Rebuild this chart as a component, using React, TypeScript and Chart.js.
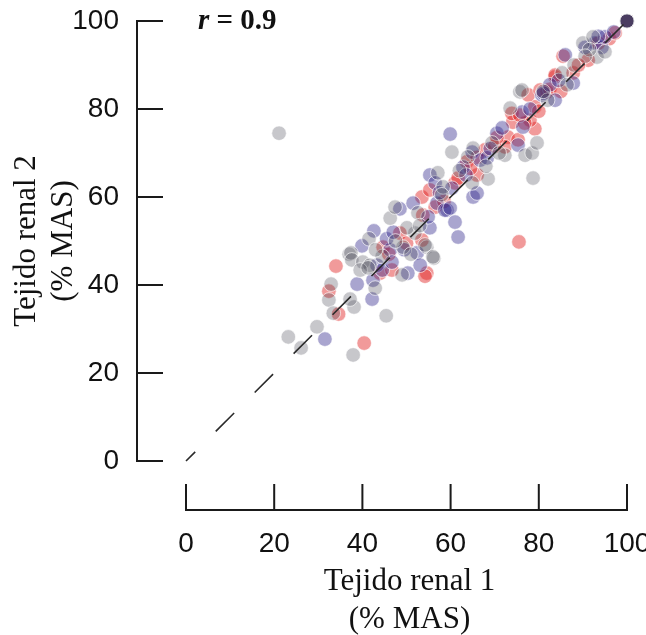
import React, { useEffect, useRef } from "react";
import { Chart, registerables } from "chart.js";

Chart.register(...registerables);

const xTicks = [0, 20, 40, 60, 80, 100];
const yTicks = [0, 20, 40, 60, 80, 100];
const xTitle = ["Tejido renal 1", "(% MAS)"];
const yTitle = ["Tejido renal 2", "(% MAS)"];
const rLabel = "r";
const rValue = " = 0.9";
const identityX = [0, 100];
const identityY = [0, 100];

const redX = [34, 32.4, 34.6, 40.4, 44, 46.7, 44.7, 48.5, 53.7, 53.5, 54.6, 54.2, 53.5, 55.3, 56.5, 61, 66, 61.7, 63.7, 67.8, 73, 72.3, 75.3, 79.1, 78, 74.1, 73.9, 79.1, 81.9, 77.6, 75.5, 80.3, 83.7, 82.5, 87.8, 85.5, 91.2, 96, 97.3, 76.8, 70, 66, 75.7, 83.7, 46, 50, 58.5, 64.5, 70.5, 85, 89, 93.5, 80, 100, 100, 100];
const redY = [44.3, 38.6, 33.4, 26.8, 42.7, 43.4, 48.6, 51.8, 55.9, 50.2, 42.7, 42, 60, 61.6, 57.7, 63.2, 65, 64.3, 68, 70.7, 73.6, 71.4, 73, 75.5, 77.5, 77, 79, 80.5, 83.9, 83.2, 49.8, 84.3, 87.3, 84.5, 88.2, 92, 91.1, 96, 97.3, 76.8, 71.5, 69, 78.6, 87.7, 47, 49.5, 59, 66.5, 73.5, 84, 90, 95, 79.5, 100, 100, 100];

const purpleX = [31.5, 42.2, 38.8, 42.4, 39.9, 42.6, 43.3, 44.5, 46.3, 46.7, 50.3, 52.4, 53.1, 55.3, 48.5, 51.5, 56.9, 59.2, 61, 61.7, 58.7, 59.9, 54.9, 55.3, 56.5, 60.3, 65.1, 66, 62.8, 64.9, 66.7, 68.3, 59.9, 70.5, 71.7, 75.3, 76.4, 76.2, 83.7, 80.7, 81, 82.5, 87.8, 86, 92.7, 94.3, 95, 93.5, 45.5, 47, 49.5, 57.5, 63.5, 69, 78, 84.5, 90.5, 97, 100, 100, 100];
const purpleY = [27.7, 36.8, 40.2, 41.1, 48.9, 52.3, 44.5, 43.4, 48, 45.2, 42.7, 47.3, 44.5, 53, 57.3, 58.6, 58.6, 57, 54.3, 50.9, 57, 57.5, 55.5, 65, 63.2, 62, 60, 60.9, 66.8, 70.2, 68.4, 68.9, 74.3, 74.5, 75.7, 71.8, 75.9, 79.3, 82, 83.2, 83.6, 85.5, 85.9, 92.3, 95, 94, 96.4, 96.5, 50.5, 52, 48, 61, 65, 71, 80, 86.5, 94, 97.5, 100, 100, 100];

const grayX = [21.1, 32.9, 32.4, 33.4, 37, 23.2, 29.7, 26.1, 37.9, 45.4, 38.1, 37.2, 42.9, 37.4, 37.6, 40.1, 41.7, 39.5, 41.5, 41.3, 49.2, 49, 54.6, 56.2, 51.9, 50.1, 46.3, 47.4, 52.6, 56, 54.2, 57.1, 58.3, 64.9, 68.5, 65.1, 63.9, 60.3, 69.4, 72.3, 76.9, 78.5, 79.6, 73.5, 78.7, 75.7, 76.2, 85.3, 86.4, 90, 92.3, 93.2, 91.5, 82, 44.5, 47.5, 51, 43, 58, 62, 71, 88, 90.5, 95, 81, 68, 53, 100, 100, 100];
const grayY = [74.5, 40.2, 36.6, 33.6, 47, 28.2, 30.5, 25.7, 24.1, 33, 35, 36.8, 39.3, 47.3, 45.7, 45.2, 44.5, 43.4, 50.5, 43.9, 48.6, 42.3, 48.6, 46.1, 51.8, 53, 55.2, 57.7, 56.4, 46.4, 49.1, 65.5, 62.3, 63.2, 64.1, 71.1, 69.1, 70.2, 72.3, 69.5, 69.5, 70, 72.3, 80.2, 64.3, 83.9, 84.3, 88.2, 85.5, 95, 96.4, 91.8, 93.5, 82, 46.5, 50, 47, 48, 60.5, 66, 70, 90, 92, 93, 84, 67, 53.5, 100, 100, 100];

const toPoints = (xs: number[], ys: number[]) => xs.map((x, i) => ({ x, y: ys[i] }));

const SANS = "'Liberation Sans', Arial, Helvetica, sans-serif";
const SERIF = "'Liberation Serif', 'Times New Roman', serif";
const AXIS_OFFSET = 49;
const TICK_LEN = 26;

const decorPlugin = {
  id: "decor",
  afterDraw(chart: any) {
    const { ctx } = chart;
    const xs = chart.scales.x;
    const ys = chart.scales.y;
    const x0 = xs.getPixelForValue(xTicks[0]);
    const x1 = xs.getPixelForValue(xTicks[xTicks.length - 1]);
    const y0 = ys.getPixelForValue(yTicks[0]);
    const y1 = ys.getPixelForValue(yTicks[yTicks.length - 1]);
    const axX = x0 - AXIS_OFFSET;
    const axY = y0 + AXIS_OFFSET;
    ctx.save();
    ctx.strokeStyle = "#1a1a1a";
    ctx.lineWidth = 2;
    ctx.lineCap = "butt";
    ctx.beginPath();
    ctx.moveTo(axX, y0 + 1);
    ctx.lineTo(axX, y1 - 1);
    yTicks.forEach((v) => {
      const p = ys.getPixelForValue(v);
      ctx.moveTo(axX - 1, p);
      ctx.lineTo(axX + TICK_LEN, p);
    });
    ctx.moveTo(x0 - 1, axY);
    ctx.lineTo(x1 + 1, axY);
    xTicks.forEach((v) => {
      const p = xs.getPixelForValue(v);
      ctx.moveTo(p, axY + 1);
      ctx.lineTo(p, axY - TICK_LEN);
    });
    ctx.stroke();

    ctx.fillStyle = "#111";
    ctx.font = `31px ${SERIF}`;
    ctx.textAlign = "center";
    ctx.textBaseline = "alphabetic";
    const xc = (x0 + x1) / 2 + 3;
    ctx.fillText(xTitle[0], xc, 590);
    ctx.fillText(xTitle[1], xc, 628);

    const yc = (y0 + y1) / 2;
    ctx.save();
    ctx.translate(35, yc);
    ctx.rotate(-Math.PI / 2);
    ctx.fillText(yTitle[0], 0, 0);
    ctx.fillText(yTitle[1], 0, 37);
    ctx.restore();

    ctx.textAlign = "left";
    ctx.font = `italic bold 29px ${SERIF}`;
    const rx = 198;
    const ry = 29;
    ctx.fillText(rLabel, rx, ry);
    const rw = ctx.measureText(rLabel).width;
    ctx.font = `bold 29px ${SERIF}`;
    ctx.fillText(rValue, rx + rw, ry);
    ctx.restore();
  },
};

export default function App() {
  const ref = useRef<HTMLCanvasElement | null>(null);
  useEffect(() => {
    if (!ref.current) return;
    const pointStyle = {
      pointRadius: 7.3,
      pointBorderWidth: 1,
      pointBorderColor: "rgba(255,255,255,0.65)",
      clip: false as const,
    };
    const chart = new Chart(ref.current, {
      type: "scatter",
      data: {
        datasets: [
          {
            type: "line" as any,
            data: toPoints(identityX, identityY),
            borderColor: "#2a2a2a",
            borderWidth: 1.6,
            borderDash: [26, 29],
            borderDashOffset: 13,
            pointRadius: 0,
            fill: false,
            clip: false,
          } as any,
          {
            data: toPoints(grayX, grayY),
            backgroundColor: "rgba(70,70,82,0.3)",
            ...pointStyle,
          },
          {
            data: toPoints(purpleX, purpleY),
            backgroundColor: "rgba(50,40,140,0.42)",
            ...pointStyle,
          },
          {
            data: toPoints(redX, redY),
            backgroundColor: "rgba(225,30,30,0.45)",
            ...pointStyle,
          },
        ],
      },
      options: {
        responsive: false,
        animation: false,
        devicePixelRatio: 1,
        events: [],
        layout: { padding: { top: 21, right: 19, left: 0, bottom: 0 } },
        plugins: {
          legend: { display: false },
          tooltip: { enabled: false },
        },
        scales: {
          x: {
            type: "linear",
            position: "bottom",
            min: 0,
            max: 100,
            grid: { display: false },
            border: { display: false },
            ticks: {
              stepSize: 20,
              padding: 58,
              color: "#111",
              font: { family: SANS, size: 28 },
              autoSkip: false,
              maxRotation: 0,
            },
            afterBuildTicks: (s: any) => {
              s.ticks = xTicks.map((v) => ({ value: v }));
            },
            afterFit: (s: any) => {
              s.height = 174;
              s.paddingLeft = 0;
              s.paddingRight = 0;
            },
          },
          y: {
            type: "linear",
            position: "left",
            min: 0,
            max: 100,
            grid: { display: false },
            border: { display: false },
            ticks: {
              stepSize: 20,
              padding: 59,
              color: "#111",
              font: { family: SANS, size: 28 },
              autoSkip: false,
            },
            afterBuildTicks: (s: any) => {
              s.ticks = yTicks.map((v) => ({ value: v }));
            },
            afterFit: (s: any) => {
              s.width = 186;
              s.paddingTop = 0;
              s.paddingBottom = 0;
            },
          },
        },
      },
      plugins: [decorPlugin],
    });
    return () => chart.destroy();
  }, []);
  return (
    <div style={{ position: "fixed", left: 0, top: 0, width: 646, height: 635, background: "#fff" }}>
      <canvas ref={ref} width={646} height={635} style={{ display: "block" }} />
    </div>
  );
}
